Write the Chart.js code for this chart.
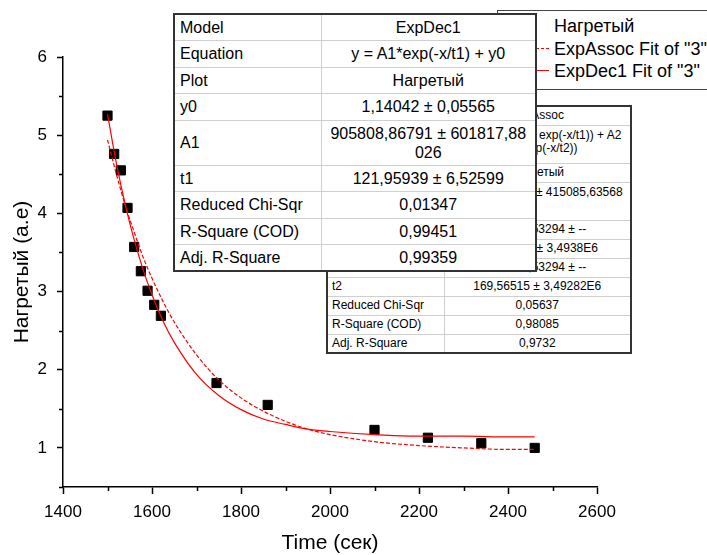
<!DOCTYPE html>
<html>
<head>
<meta charset="utf-8">
<script src="https://cdn.jsdelivr.net/npm/chart.js@4.4.1/dist/chart.umd.min.js"></script>
<style>
  html, body { margin: 0; padding: 0; background: #fff; }
  #wrap { position: relative; width: 707px; height: 555px; overflow: hidden; font-family: "Liberation Sans", Arial, sans-serif; color: #000; }
  #chart { position: absolute; left: 0; top: 0; }

  /* fit report tables, pasted over the plot like in Origin */
  table.fit { position: absolute; border-collapse: collapse; table-layout: fixed; background: #fff; border: 2px solid #333; }
  table.fit td { border: 1px solid #cfcfcf; padding: 0 5px; white-space: nowrap; overflow: hidden; }
  table.fit td.v { text-align: center; }

  #dec { left: 173px; top: 13px; width: 362px; font-size: 16px; line-height: 19px; z-index: 3; }
  #dec tr { height: 26.5px; }
  #dec tr.two { height: 45px; }

  #assoc { left: 326px; top: 105px; width: 304px; font-size: 12px; line-height: 13px; z-index: 2; }
  #assoc td { padding: 0 4px; }
  #assoc tr { height: 19px; }
  #assoc tr.two { height: 38px; }
  #assoc tr.two td { vertical-align: top; padding-top: 3px; }

  #legend { position: absolute; left: 497px; top: 10px; width: 260px; height: 78px; border: 1px solid #444; background: #fff; z-index: 1; font-size: 18px; }
  #legend .row { position: absolute; left: 56px; white-space: nowrap; line-height: 20px; }
  #legend .sample { position: absolute; left: 13px; width: 38px; height: 0; }
</style>
</head>
<body>
<div id="wrap">
  <canvas id="chart" width="707" height="555"></canvas>

  <div id="legend">
    <div style="position:absolute;left:27px;top:10px;width:10px;height:10px;background:#000"></div>
    <div class="row" style="top:5px">Нагретый</div>
    <div class="sample" style="top:37px;border-top:1px dashed #f00"></div>
    <div class="row" style="top:28px">ExpAssoc Fit of "3"</div>
    <div class="sample" style="top:59px;border-top:1px solid #f00"></div>
    <div class="row" style="top:50px">ExpDec1 Fit of "3"</div>
  </div>

  <table id="assoc" class="fit">
    <colgroup><col style="width:117px"><col style="width:187px"></colgroup>
    <tr><td>Model</td><td class="v">ExpAssoc</td></tr>
    <tr class="two"><td>Equation</td><td class="v">y = y0 + A1*(1 - exp(-x/t1)) + A2<br>*(1 - exp(-x/t2))</td></tr>
    <tr><td>Plot</td><td class="v">Нагретый</td></tr>
    <tr class="two"><td>y0</td><td class="v">-415084,67221 ± 415085,63568</td></tr>
    <tr><td>A1</td><td class="v">415082,53294 ± --</td></tr>
    <tr><td>t1</td><td class="v">169,56515 ± 3,4938E6</td></tr>
    <tr><td>A2</td><td class="v">415082,53294 ± --</td></tr>
    <tr><td>t2</td><td class="v">169,56515 ± 3,49282E6</td></tr>
    <tr><td>Reduced Chi-Sqr</td><td class="v">0,05637</td></tr>
    <tr><td>R-Square (COD)</td><td class="v">0,98085</td></tr>
    <tr><td>Adj. R-Square</td><td class="v">0,9732</td></tr>
  </table>

  <table id="dec" class="fit">
    <colgroup><col style="width:147px"><col style="width:215px"></colgroup>
    <tr><td>Model</td><td class="v">ExpDec1</td></tr>
    <tr><td>Equation</td><td class="v">y = A1*exp(-x/t1) + y0</td></tr>
    <tr><td>Plot</td><td class="v">Нагретый</td></tr>
    <tr><td>y0</td><td class="v">1,14042 ± 0,05565</td></tr>
    <tr class="two"><td>A1</td><td class="v">905808,86791 ± 601817,88<br>026</td></tr>
    <tr><td>t1</td><td class="v">121,95939 ± 6,52599</td></tr>
    <tr><td>Reduced Chi-Sqr</td><td class="v">0,01347</td></tr>
    <tr><td>R-Square (COD)</td><td class="v">0,99451</td></tr>
    <tr><td>Adj. R-Square</td><td class="v">0,99359</td></tr>
  </table>
</div>

<script>
// measured points
const timeSec = [1500, 1515, 1530, 1545, 1560, 1575, 1590, 1605, 1620, 1745, 1860, 2100, 2220, 2340, 2460]
const heated  = [5.25, 4.76, 4.55, 4.07, 3.57, 3.26, 3.01, 2.83, 2.69, 1.83, 1.55, 1.23, 1.13, 1.06, 1.00]

// fit curves
const fitTime     = [1500, 1520, 1540, 1560, 1580, 1600, 1625, 1650, 1700, 1750, 1800, 1850, 1900, 1950, 2000, 2100, 2200, 2300, 2400, 2460]
const expDec1Fit  = [5.27, 4.64, 4.11, 3.66, 3.28, 2.96, 2.62, 2.35, 1.94, 1.67, 1.49, 1.37, 1.30, 1.24, 1.21, 1.17, 1.15, 1.15, 1.14, 1.14]
const expAssocFit = [4.94, 4.50, 4.10, 3.76, 3.44, 3.17, 2.87, 2.61, 2.19, 1.87, 1.64, 1.47, 1.34, 1.24, 1.17, 1.08, 1.03, 1.00, 0.98, 0.98]

const xMin = 1400, xMax = 2600, xStep = 100, xLabelStep = 200
const yMin = 0.5, yMax = 6, yStep = 0.5

const FONT = '"Liberation Sans", Arial, sans-serif'

const toXY = (xs, ys) => xs.map((x, i) => ({ x, y: ys[i] }))

const isMajorX = v => v % xLabelStep === 0
const isMajorY = v => Number.isInteger(v)

// Origin draws short minor ticks between the labelled ones
const minorTicks = {
  id: "minorTicks",
  afterDraw(chart) {
    const { ctx, scales: { x, y } } = chart
    ctx.save()
    ctx.strokeStyle = "#000"
    ctx.lineWidth = 1.5
    ctx.beginPath()
    x.ticks.filter(t => !isMajorX(t.value)).forEach(t => {
      const px = Math.round(x.getPixelForValue(t.value)) + 0.5
      ctx.moveTo(px, x.top)
      ctx.lineTo(px, x.top + 4)
    })
    y.ticks.filter(t => !isMajorY(t.value)).forEach(t => {
      const py = Math.round(y.getPixelForValue(t.value)) + 0.5
      ctx.moveTo(y.right, py)
      ctx.lineTo(y.right - 4, py)
    })
    ctx.stroke()
    ctx.restore()
  }
}

new Chart(document.getElementById("chart"), {
  type: "scatter",
  data: {
    datasets: [
      {
        label: "ExpDec1 Fit",
        data: toXY(fitTime, expDec1Fit),
        showLine: true,
        borderColor: "#ff0000",
        borderWidth: 1.2,
        pointRadius: 0,
        cubicInterpolationMode: "monotone",
        order: 0
      },
      {
        label: "ExpAssoc Fit",
        data: toXY(fitTime, expAssocFit),
        showLine: true,
        borderColor: "#ff0000",
        borderWidth: 1.2,
        borderDash: [4, 2],
        pointRadius: 0,
        cubicInterpolationMode: "monotone",
        order: 1
      },
      {
        label: "Нагретый",
        data: toXY(timeSec, heated),
        pointStyle: "rect",
        pointRadius: 6.5,
        backgroundColor: "#000",
        borderColor: "#000",
        borderWidth: 1,
        order: 2
      }
    ]
  },
  options: {
    responsive: false,
    animation: false,
    devicePixelRatio: 1,
    events: [],
    layout: { padding: { left: 0, right: 110, top: 57, bottom: 0 } },
    plugins: {
      legend: { display: false },
      tooltip: { enabled: false }
    },
    scales: {
      x: {
        type: "linear",
        min: xMin,
        max: xMax,
        afterFit: s => { s.height = 68 },
        border: { display: true, color: "#000", width: 1.5 },
        grid: {
          drawOnChartArea: false,
          drawTicks: true,
          tickLength: 7,
          tickWidth: 1.5,
          tickColor: c => isMajorX(c.tick.value) ? "#000" : "rgba(0,0,0,0)"
        },
        ticks: {
          stepSize: xStep,
          autoSkip: false,
          maxRotation: 0,
          padding: 8,
          color: "#000",
          font: { family: FONT, size: 17 },
          callback: v => isMajorX(v) ? String(v) : ""
        },
        title: {
          display: true,
          text: "Time (сек)",
          color: "#000",
          font: { family: FONT, size: 21 },
          padding: { top: 0, bottom: -1 }
        }
      },
      y: {
        type: "linear",
        min: yMin,
        max: yMax,
        afterFit: s => { s.width = 63 },
        border: { display: true, color: "#000", width: 1.5 },
        grid: {
          drawOnChartArea: false,
          drawTicks: true,
          tickLength: 6,
          tickWidth: 1.5,
          tickColor: c => isMajorY(c.tick.value) ? "#000" : "rgba(0,0,0,0)"
        },
        ticks: {
          stepSize: yStep,
          autoSkip: false,
          padding: 10,
          color: "#000",
          font: { family: FONT, size: 17 },
          callback: v => isMajorY(v) ? String(v) : ""
        },
        title: {
          display: true,
          text: "Нагретый (а.е)",
          color: "#000",
          font: { family: FONT, size: 21 },
          padding: { top: 10, bottom: 0 }
        }
      }
    }
  },
  plugins: [minorTicks]
})
</script>
</body>
</html>
